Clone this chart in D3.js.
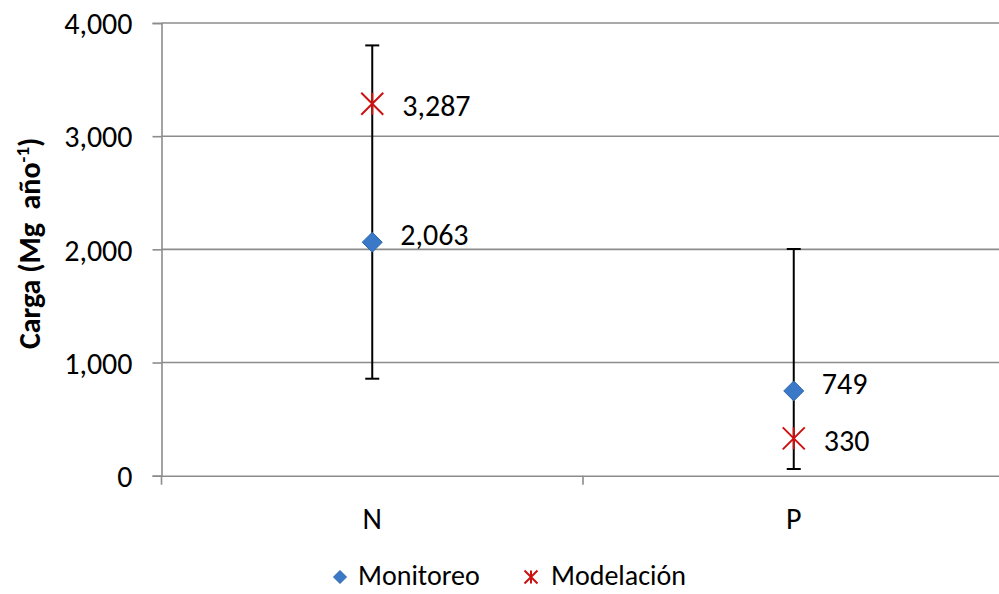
<!DOCTYPE html>
<html>
<head>
<meta charset="utf-8">
<script src="https://cdn.jsdelivr.net/npm/d3@7"></script>
<style>
  body { margin: 0; background: #fff; }
  text { font-family: Carlito, "Open Sans", sans-serif; fill: #000; }
</style>
</head>
<body>
<div id="chart"></div>
<script>
// chart values
const categories = ["N", "P"];
const monitoreo = [2063, 749];
const modelacion = [3287, 330];
const errLow = [857, 59];
const errHigh = [3802, 2003];
const yTicks = [0, 1000, 2000, 3000, 4000];

const colorpel = { "mon": "#3a78c8", "mod": "#cc1111", "grid": "#8c8c8c", "err": "#000" };

let width = 999, height = 594;
const margin = { left: 161.5, right: -5.5, top: 23, bottom: 118.3 };
const fs = "30px";

let x = d3.scaleBand()
    .domain(categories)
    .range([margin.left, width - margin.right]);

let y = d3.scaleLinear()
    .domain([0, 4000])
    .range([height - margin.bottom, margin.top]);

let svg = d3.select("#chart").append("svg")
    .attr("width", width)
    .attr("height", height);

const fmt = d3.format(",");

// gridlines
svg.append("g").selectAll("line").data(yTicks.filter(d => d > 0))
    .enter().append("line")
    .attr("x1", margin.left).attr("x2", width)
    .attr("y1", d => y(d)).attr("y2", d => y(d))
    .attr("stroke", colorpel.grid).attr("stroke-width", 1.6);

// y axis
let yAxis = svg.append("g")
    .attr("transform", `translate(${margin.left},0)`)
    .call(d3.axisLeft(y).tickValues(yTicks).tickFormat(fmt).tickSizeOuter(0).tickSize(9).tickPadding(20));
yAxis.select(".domain").attr("stroke", colorpel.grid).attr("stroke-width", 1.6);
yAxis.selectAll(".tick line").attr("stroke", colorpel.grid).attr("stroke-width", 1.6);
yAxis.selectAll(".tick text").style("font-size", fs).attr("dy", "0.36em");

// x axis
let xAxis = svg.append("g")
    .attr("transform", `translate(0,${y(0)})`)
    .call(d3.axisBottom(x).tickSize(0).tickPadding(32).tickSizeOuter(0));
xAxis.select(".domain").attr("stroke", colorpel.grid).attr("stroke-width", 1.6);
xAxis.selectAll(".tick text").style("font-size", fs);
// category boundary ticks
svg.append("g").selectAll("line").data(categories.slice(1))
    .enter().append("line")
    .attr("x1", d => x(d)).attr("x2", d => x(d))
    .attr("y1", y(0)).attr("y2", y(0) + 9)
    .attr("stroke", colorpel.grid).attr("stroke-width", 1.6);
svg.append("line")
    .attr("x1", margin.left).attr("x2", margin.left)
    .attr("y1", y(0)).attr("y2", y(0) + 9)
    .attr("stroke", colorpel.grid).attr("stroke-width", 1.6);

// y label
let ylab = svg.append("text")
    .attr("transform", `translate(40,${(margin.top + y(0)) / 2 - 6}) rotate(-90)`)
    .attr("text-anchor", "middle")
    .style("font-size", "30px").style("font-weight", "bold");
ylab.append("tspan").text("Carga (Mg\u00a0\u00a0año");
ylab.append("tspan").text("-1").attr("dy", -11).style("font-size", "19px");
ylab.append("tspan").text(")").attr("dy", 11);

const cx = d => x(d) + x.bandwidth() / 2;

// error bars
let eb = svg.append("g").selectAll("g").data(categories).enter().append("g");
eb.append("line")
    .attr("x1", cx).attr("x2", cx)
    .attr("y1", (d, i) => y(errLow[i])).attr("y2", (d, i) => y(errHigh[i]))
    .attr("stroke", colorpel.err).attr("stroke-width", 2);
eb.append("line")
    .attr("x1", d => cx(d) - 7).attr("x2", d => cx(d) + 7)
    .attr("y1", (d, i) => y(errLow[i])).attr("y2", (d, i) => y(errLow[i]))
    .attr("stroke", colorpel.err).attr("stroke-width", 2);
eb.append("line")
    .attr("x1", d => cx(d) - 7).attr("x2", d => cx(d) + 7)
    .attr("y1", (d, i) => y(errHigh[i])).attr("y2", (d, i) => y(errHigh[i]))
    .attr("stroke", colorpel.err).attr("stroke-width", 2);

const diamond = (g, px, py, r) => g.append("path")
    .attr("d", `M${px},${py - r}L${px + r},${py}L${px},${py + r}L${px - r},${py}Z`)
    .attr("fill", colorpel.mon).attr("stroke", "#2f66aa").attr("stroke-width", 1);

const star = (g, px, py, r) => g.append("path")
    .attr("d", `M${px - r},${py - r}L${px + r},${py + r}M${px - r},${py + r}L${px + r},${py - r}M${px},${py - r}L${px},${py + r}`)
    .attr("stroke", colorpel.mod).attr("stroke-width", 2).attr("fill", "none");

// modelacion markers + labels
let gmod = svg.append("g");
categories.forEach((c, i) => {
    star(gmod, cx(c), y(modelacion[i]), 11);
    gmod.append("text")
        .attr("x", cx(c) + 30).attr("y", y(modelacion[i]) + 2)
        .attr("dy", "0.36em").style("font-size", fs)
        .text(fmt(modelacion[i]));
});

// monitoreo markers + labels
let gmon = svg.append("g");
categories.forEach((c, i) => {
    diamond(gmon, cx(c), y(monitoreo[i]), 10);
    gmon.append("text")
        .attr("x", cx(c) + 28).attr("y", y(monitoreo[i]) - 8)
        .attr("dy", "0.36em").style("font-size", fs)
        .text(fmt(monitoreo[i]));
});

// legend
let leg = svg.append("g");
diamond(leg, 340, 577, 6.5);
leg.append("text").attr("x", 358).attr("y", 585)
    .style("font-size", "28px").text("Monitoreo");
star(leg, 531, 577, 6.5);
leg.append("text").attr("x", 551).attr("y", 585)
    .style("font-size", "28px").text("Modelación");
</script>
</body>
</html>
